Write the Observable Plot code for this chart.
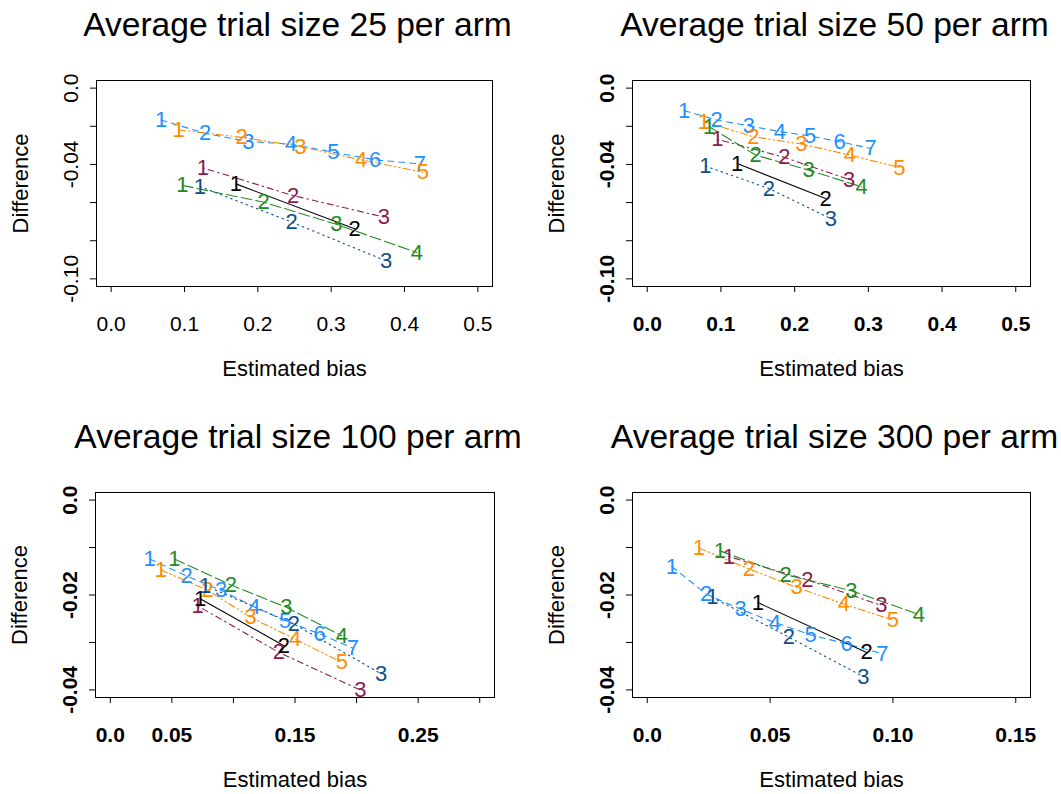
<!DOCTYPE html>
<html><head><meta charset="utf-8">
<script src="https://cdn.jsdelivr.net/npm/d3@7"></script>
<script src="https://cdn.jsdelivr.net/npm/@observablehq/plot@0.6"></script>
<style>
body{margin:0;background:#fff;}
#wrap{position:relative;width:1061px;height:794px;overflow:hidden;background:#fff;}
#wrap svg{position:absolute;overflow:visible;}
</style></head><body><div id="wrap"></div>
<script>
// ---------- data ----------
const titles = ["Average trial size 25 per arm","Average trial size 50 per arm","Average trial size 100 per arm","Average trial size 300 per arm"];
const seriesKeys = ["lightblue","orange","maroon","black","green","darkblue"];

const n25_lightblue = [[0.068,-0.0167],[0.128,-0.0237],[0.187,-0.028],[0.245,-0.0293],[0.303,-0.0336],[0.360,-0.0376],[0.421,-0.0397]];
const n25_orange    = [[0.092,-0.0219],[0.178,-0.0258],[0.258,-0.0307],[0.341,-0.0376],[0.425,-0.0441]];
const n25_maroon    = [[0.125,-0.0418],[0.248,-0.0563],[0.372,-0.0676]];
const n25_black     = [[0.170,-0.0502],[0.332,-0.0737]];
const n25_green     = [[0.097,-0.0510],[0.208,-0.0598],[0.307,-0.0714],[0.417,-0.0862]];
const n25_darkblue  = [[0.121,-0.0516],[0.246,-0.0702],[0.375,-0.0906]];

const n50_lightblue = [[0.050,-0.0118],[0.094,-0.0167],[0.138,-0.0198],[0.180,-0.0228],[0.221,-0.0251],[0.261,-0.0281],[0.303,-0.0316]];
const n50_orange    = [[0.077,-0.0176],[0.144,-0.0255],[0.209,-0.0293],[0.275,-0.0351],[0.342,-0.0416]];
const n50_maroon    = [[0.095,-0.0268],[0.186,-0.0363],[0.274,-0.0479]];
const n50_black     = [[0.122,-0.0395],[0.242,-0.0579]];
const n50_green     = [[0.084,-0.0202],[0.147,-0.0351],[0.219,-0.0430],[0.291,-0.0518]];
const n50_darkblue  = [[0.079,-0.0409],[0.165,-0.0526],[0.249,-0.0684]];

const n100_lightblue = [[0.032,-0.0124],[0.062,-0.0160],[0.090,-0.0190],[0.117,-0.0225],[0.142,-0.0254],[0.170,-0.0282],[0.197,-0.0312]];
const n100_orange    = [[0.041,-0.0147],[0.079,-0.0190],[0.114,-0.0247],[0.150,-0.0293],[0.188,-0.0342]];
const n100_maroon    = [[0.071,-0.0223],[0.137,-0.0321],[0.203,-0.0400]];
const n100_black     = [[0.073,-0.0208],[0.141,-0.0307]];
const n100_green     = [[0.052,-0.0124],[0.098,-0.0179],[0.143,-0.0226],[0.188,-0.0286]];
const n100_darkblue  = [[0.077,-0.0180],[0.149,-0.0261],[0.220,-0.0366]];

const n300_lightblue = [[0.010,-0.0140],[0.024,-0.0198],[0.038,-0.0230],[0.052,-0.0258],[0.0665,-0.0284],[0.0812,-0.0303],[0.0957,-0.0324]];
const n300_orange    = [[0.021,-0.0101],[0.0414,-0.0145],[0.0608,-0.0184],[0.080,-0.0219],[0.100,-0.0253]];
const n300_maroon    = [[0.0332,-0.0119],[0.0652,-0.0168],[0.0953,-0.0222]];
const n300_black     = [[0.045,-0.0216],[0.0893,-0.0321]];
const n300_green     = [[0.0296,-0.0107],[0.0563,-0.0157],[0.0831,-0.0191],[0.1106,-0.0241]];
const n300_darkblue  = [[0.0265,-0.0205],[0.0577,-0.0289],[0.088,-0.0372]];

const xlimTop = [0, 0.5], ylimTop = [-0.1, 0];
const xlim100 = [0, 0.3], xlim300 = [0, 0.15], ylimBottom = [-0.04, 0];
const xTicksTop = [0,0.1,0.2,0.3,0.4,0.5];
const xLabelsTop = ["0.0","0.1","0.2","0.3","0.4","0.5"];
const xTicks100 = [0,0.05,0.1,0.15,0.2,0.25,0.3];
const xLabels100 = ["0.0","0.05","","0.15","","0.25",""];
const xTicks300 = [0,0.05,0.1,0.15];
const xLabels300 = ["0.0","0.05","0.10","0.15"];
const yTicksTop = [0,-0.02,-0.04,-0.06,-0.08,-0.1];
const yLabelsTop = ["0.0","","-0.04","","","-0.10"];
const yTicksBottom = [0,-0.01,-0.02,-0.03,-0.04];
const yLabelsBottom = ["0.0","","-0.02","","-0.04"];

// ---------- styles ----------
const style = {
  lightblue: {color:"#1E90FF", dash:"6,5"},
  orange:    {color:"#FF8C00", dash:"7,3,1.5,3,1.5,3"},
  maroon:    {color:"#8B1A50", dash:"1.5,4,6,4"},
  black:     {color:"#000000", dash:null},
  green:     {color:"#228B22", dash:"11,4"},
  darkblue:  {color:"#104E8B", dash:"1.5,4"}
};
const FONT = "'Liberation Sans', Arial, Helvetica, sans-serif";

const panels = [
  {title:titles[0], data:{lightblue:n25_lightblue,orange:n25_orange,maroon:n25_maroon,black:n25_black,green:n25_green,darkblue:n25_darkblue},
   xlim:xlimTop, ylim:ylimTop, xTicks:xTicksTop, xLabels:xLabelsTop, yTicks:yTicksTop, yLabels:yLabelsTop,
   left:0, top:0, width:530, height:397, mL:96, mR:38, mT:80, mB:111, bold:false},
  {title:titles[1], data:{lightblue:n50_lightblue,orange:n50_orange,maroon:n50_maroon,black:n50_black,green:n50_green,darkblue:n50_darkblue},
   xlim:xlimTop, ylim:ylimTop, xTicks:xTicksTop, xLabels:xLabelsTop, yTicks:yTicksTop, yLabels:yLabelsTop,
   left:530, top:0, width:531, height:397, mL:102, mR:31, mT:80, mB:111, bold:true},
  {title:titles[2], data:{lightblue:n100_lightblue,orange:n100_orange,maroon:n100_maroon,black:n100_black,green:n100_green,darkblue:n100_darkblue},
   xlim:xlim100, ylim:ylimBottom, xTicks:xTicks100, xLabels:xLabels100, yTicks:yTicksBottom, yLabels:yLabelsBottom,
   left:0, top:397, width:530, height:397, mL:95, mR:36, mT:95, mB:97, bold:true},
  {title:titles[3], data:{lightblue:n300_lightblue,orange:n300_orange,maroon:n300_maroon,black:n300_black,green:n300_green,darkblue:n300_darkblue},
   xlim:xlim300, ylim:ylimBottom, xTicks:xTicks300, xLabels:xLabels300, yTicks:yTicksBottom, yLabels:yLabelsBottom,
   left:530, top:397, width:531, height:397, mL:102, mR:31, mT:95, mB:97, bold:true}
];

const expand = (lim) => { const r = (lim[1]-lim[0])*0.04; return [lim[0]-r, lim[1]+r]; };

function makePanel(cfg){
  const rows = {};
  for (const key of seriesKeys) rows[key] = cfg.data[key].map((p,i)=>({k:String(i+1), x:p[0], y:p[1]}));
  const wt = cfg.bold ? "bold" : "normal";
  const marks = [];
  marks.push(Plot.frame({stroke:"#000", strokeWidth:1}));
  marks.push(Plot.axisX(cfg.xTicks, {tickSize:6, tickFormat:()=>"", label:null, stroke:"#000"}));
  marks.push(Plot.axisY(cfg.yTicks, {tickSize:6, tickFormat:()=>"", label:null, stroke:"#000"}));
  marks.push(Plot.text(cfg.xTicks.map((v,i)=>({v, t:cfg.xLabels[i]})), {x:"v", text:"t", frameAnchor:"bottom", lineAnchor:"middle", dy:38, fontSize:21, fontWeight:wt, fill:"#000"}));
  marks.push(Plot.text(cfg.yTicks.map((v,i)=>({v, t:cfg.yLabels[i]})), {y:"v", text:"t", frameAnchor:"left", dx:-25, rotate:-90, textAnchor:"middle", lineAnchor:"middle", fontSize:21, fontWeight:wt, fill:"#000"}));
  marks.push(Plot.text([cfg.title], {text:d=>d, frameAnchor:"top", lineAnchor:"middle", textAnchor:"middle", dx:3, dy:-55, fontSize:33.6, fill:"#000"}));
  marks.push(Plot.text(["Estimated bias"], {text:d=>d, frameAnchor:"bottom", lineAnchor:"middle", textAnchor:"middle", dy:82, fontSize:22, fill:"#000"}));
  marks.push(Plot.text(["Difference"], {text:d=>d, frameAnchor:"left", lineAnchor:"middle", textAnchor:"middle", dx:-76, rotate:-90, fontSize:22, fill:"#000"}));
  for (const key of seriesKeys) {
    const s = style[key];
    const o = {x:"x", y:"y", stroke:s.color, strokeWidth:1.1};
    if (s.dash) o.strokeDasharray = s.dash;
    marks.push(Plot.line(rows[key], o));
  }
  for (const key of seriesKeys) {
    marks.push(Plot.text(rows[key], {x:"x", y:"y", text:"k", fill:style[key].color, fontSize:22}));
  }
  const svg = Plot.plot({
    width:cfg.width, height:cfg.height,
    marginLeft:cfg.mL, marginRight:cfg.mR, marginTop:cfg.mT, marginBottom:cfg.mB,
    x:{domain:expand(cfg.xlim)}, y:{domain:expand(cfg.ylim)},
    style:{fontFamily:FONT, fontSize:"20px", background:"transparent", overflow:"visible", color:"#000"},
    marks
  });
  svg.style.left = cfg.left + "px";
  svg.style.top = cfg.top + "px";
  return svg;
}

const wrap = document.getElementById("wrap");
for (const cfg of panels) wrap.appendChild(makePanel(cfg));
</script>
</body></html>
